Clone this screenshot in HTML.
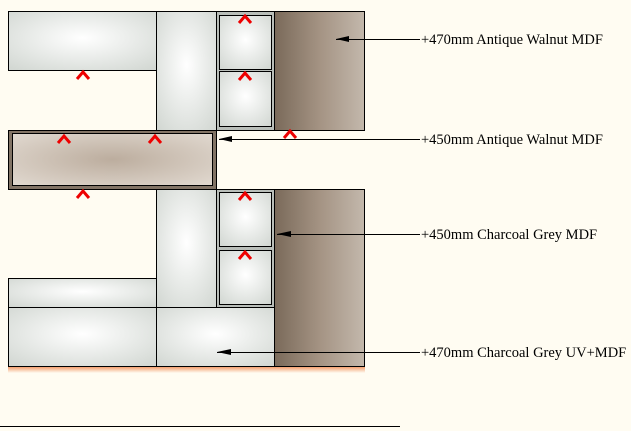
<!DOCTYPE html>
<html><head><style>body{margin:0;background:#fffcf2}svg{display:block}</style></head><body>
<svg width="631" height="431" viewBox="0 0 631 431" xmlns="http://www.w3.org/2000/svg">
<defs>
<radialGradient id="w" cx="0.5" cy="0.45" r="0.7"><stop offset="0" stop-color="#ffffff"/><stop offset="1" stop-color="#d3d8d3"/></radialGradient>
<linearGradient id="br" x1="0" x2="1"><stop offset="0" stop-color="#7a6a5a"/><stop offset="0.5" stop-color="#a49383"/><stop offset="1" stop-color="#c3b8ac"/></linearGradient>
<radialGradient id="sh" cx="0.5" cy="0.5" r="0.7"><stop offset="0" stop-color="#bcad9e"/><stop offset="1" stop-color="#e1d9d0"/></radialGradient>
<linearGradient id="or" x1="0" y1="0" x2="0" y2="1"><stop offset="0" stop-color="#f4a070"/><stop offset="1" stop-color="#fffcf2"/></linearGradient>
</defs>
<g stroke="#000" stroke-width="1">
<rect x="8.5" y="11.5" width="148" height="59" fill="url(#w)"/>
<rect x="156.5" y="11.5" width="60" height="119" fill="url(#w)"/>
<rect x="216.5" y="11.5" width="58" height="119" fill="#b9beb9"/>
<rect x="219.5" y="15.5" width="52" height="54" fill="url(#w)"/>
<rect x="219.5" y="71.5" width="52" height="55" fill="url(#w)"/>
<rect x="274.5" y="11.5" width="90" height="119" fill="url(#br)"/>
<rect x="8.5" y="130.5" width="208" height="59" fill="#827466"/>
<rect x="12.5" y="133.5" width="200" height="52" fill="url(#sh)"/>
<rect x="156.5" y="189.5" width="60" height="118" fill="url(#w)"/>
<rect x="216.5" y="189.5" width="58" height="118" fill="#b9beb9"/>
<rect x="219.5" y="192.5" width="52" height="54" fill="url(#w)"/>
<rect x="219.5" y="250.5" width="52" height="54" fill="url(#w)"/>
<rect x="274.5" y="189.5" width="90" height="177" fill="url(#br)"/>
<rect x="8.5" y="278.5" width="148" height="29" fill="url(#w)"/>
<rect x="8.5" y="307.5" width="148" height="59" fill="url(#w)"/>
<rect x="156.5" y="307.5" width="118" height="59" fill="url(#w)"/>
</g>
<rect x="8" y="367" width="357" height="6" fill="url(#or)"/>
<g fill="none" stroke="#e00" stroke-width="3">
<path d="M77 79l6-7l6 7M239 23l6-7l6 7M239 80l6-7l6 7M58 143l6-7l6 7M149 143l6-7l6 7M284 138l6-7l6 7M77 198l6-7l6 7M239 200l6-7l6 7M239 259l6-7l6 7"/>
</g>
<g stroke="#000" stroke-width="1">
<line x1="336" y1="39.5" x2="420" y2="39.5"/>
<line x1="219" y1="139.5" x2="420" y2="139.5"/>
<line x1="277" y1="234.5" x2="420" y2="234.5"/>
<line x1="217" y1="352.5" x2="420" y2="352.5"/>
<line x1="0" y1="426.5" x2="400" y2="426.5"/>
</g>
<g fill="#000">
<polygon points="336,39 349,36 349,42"/>
<polygon points="219,139 232,136 232,142"/>
<polygon points="277,234 291,231 291,237"/>
<polygon points="217,352 231,349 231,355"/>
</g>
<g font-family="Liberation Serif, serif" font-size="14.5" fill="#000">
<text x="421" y="44">+470mm Antique Walnut MDF</text>
<text x="421" y="144">+450mm Antique Walnut MDF</text>
<text x="421" y="239">+450mm Charcoal Grey MDF</text>
<text x="421" y="357">+470mm Charcoal Grey UV+MDF</text>
</g>
</svg>
</body></html>
